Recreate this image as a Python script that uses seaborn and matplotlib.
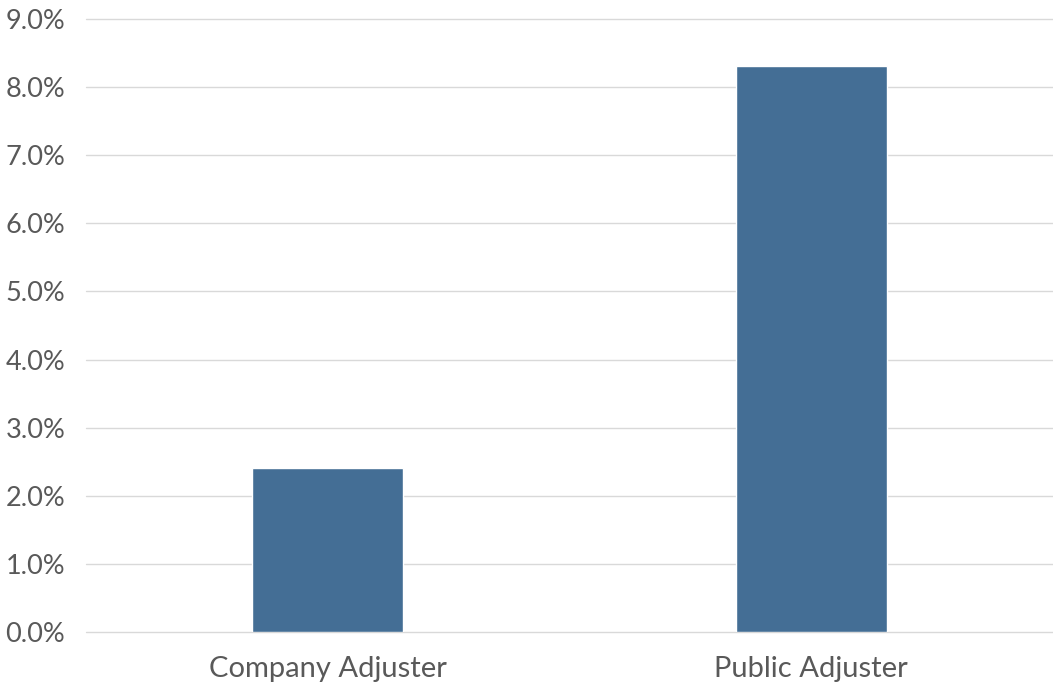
import matplotlib
matplotlib.use("Agg")
import matplotlib.pyplot as plt
from matplotlib.ticker import PercentFormatter
import seaborn as sns
import pandas as pd

categories = ["Company Adjuster", "Public Adjuster"]
values = [0.0241, 0.0831]
y_ticks = [0.00, 0.01, 0.02, 0.03, 0.04, 0.05, 0.06, 0.07, 0.08, 0.09]

df = pd.DataFrame({"category": categories, "value": values})

sns.set_theme(style="white")
plt.rcParams["font.family"] = ["Lato", "DejaVu Sans"]

fig = plt.figure(figsize=(10.53, 6.93), dpi=100)
ax = fig.add_axes([0.0817, 0.088, 0.9183, 0.8846])

sns.barplot(data=df, x="category", y="value", color="#446E95", saturation=1,
            width=0.313, ax=ax, zorder=3)

ax.set_ylim(0, 0.09)
ax.set_yticks(y_ticks)
ax.yaxis.set_major_formatter(PercentFormatter(1.0, decimals=1))
ax.grid(axis="y", color="#D9D9D9", linewidth=1.0, zorder=0)
for gl in ax.get_ygridlines():
    gl.set_clip_on(False)
ax.set_axisbelow(True)
for s in ax.spines.values():
    s.set_visible(False)
ax.tick_params(axis="both", length=0, labelcolor="#595959")
ax.tick_params(axis="y", labelsize=19.5)
ax.tick_params(axis="x", labelsize=21, pad=17)
ax.set_xlabel("")
ax.set_ylabel("")
for lbl in ax.get_yticklabels():
    lbl.set_horizontalalignment("left")
ax.yaxis.set_tick_params(pad=58)

fig.savefig("out.png", dpi=100)
